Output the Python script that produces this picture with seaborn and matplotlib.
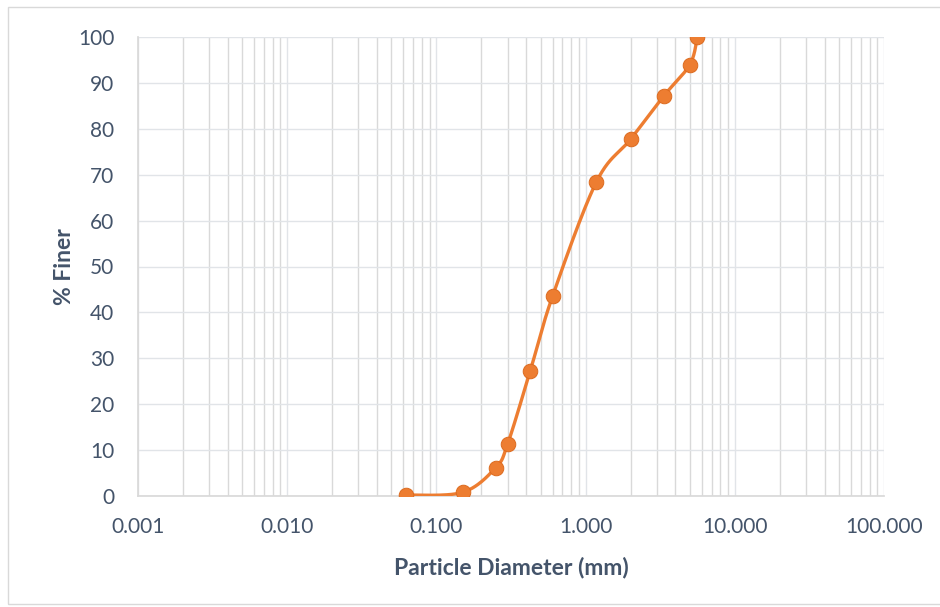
import numpy as np
import pandas as pd
import matplotlib
matplotlib.use("Agg")
import matplotlib.pyplot as plt
import seaborn as sns
from matplotlib.ticker import FixedLocator, LogLocator, NullFormatter

diameter_mm = [0.063, 0.15, 0.25, 0.3, 0.425, 0.6, 1.18, 2.0, 3.35, 5.0, 5.6]
percent_finer = [0.2, 0.8, 6.2, 11.3, 27.2, 43.5, 68.4, 77.7, 87.2, 94.0, 100.0]
x_tick_values = [0.001, 0.01, 0.1, 1, 10, 100]
x_tick_labels = ["0.001", "0.010", "0.100", "1.000", "10.000", "100.000"]
y_tick_values = list(range(0, 101, 10))

ORANGE = "#ED7D31"
TEXT = "#44546A"

sns.set_theme(style="white")
plt.rcParams["font.family"] = ["Lato", "DejaVu Sans"]

df = pd.DataFrame({"d": diameter_mm, "p": percent_finer})

# Excel-like smoothed line (Catmull-Rom Bezier in log-x space)
lx = np.log10(df["d"].values)
py = df["p"].values
n = len(lx)
curve_x, curve_y = [], []
t = np.linspace(0, 1, 40)
for i in range(n - 1):
    p0 = np.array([lx[max(i - 1, 0)], py[max(i - 1, 0)]])
    p1 = np.array([lx[i], py[i]])
    p2 = np.array([lx[i + 1], py[i + 1]])
    p3 = np.array([lx[min(i + 2, n - 1)], py[min(i + 2, n - 1)]])
    c1 = p1 + (p2 - p0) / 6.0
    c2 = p2 - (p3 - p1) / 6.0
    b = ((1 - t) ** 3)[:, None] * p1 + (3 * (1 - t) ** 2 * t)[:, None] * c1 \
        + (3 * (1 - t) * t ** 2)[:, None] * c2 + (t ** 3)[:, None] * p2
    curve_x.extend(10 ** b[:, 0])
    curve_y.extend(b[:, 1])
smooth = pd.DataFrame({"d": curve_x, "p": curve_y})

fig = plt.figure(figsize=(9.4, 6.07), dpi=100)
ax = fig.add_axes([138 / 940, 1 - 496 / 607, (884 - 138) / 940, (496 - 37) / 607])

ax.set_xscale("log")
ax.set_xlim(0.001, 100)
ax.set_ylim(0, 100)

sns.lineplot(data=smooth, x="d", y="p", sort=False, ax=ax, color=ORANGE,
             linewidth=2.4, zorder=3)
sns.scatterplot(data=df, x="d", y="p", ax=ax, color=ORANGE, s=110,
                edgecolor="#DC6A1E", linewidth=0.7, zorder=4)

ax.xaxis.set_major_locator(FixedLocator(x_tick_values))
ax.set_xticklabels(x_tick_labels)
ax.xaxis.set_minor_locator(LogLocator(base=10, subs=np.arange(2, 10)))
ax.xaxis.set_minor_formatter(NullFormatter())
ax.set_yticks(y_tick_values)

ax.grid(True, which="major", axis="both", color="#E1E4E8", linewidth=1.0)
ax.grid(True, which="minor", axis="x", color="#D9D9D9", linewidth=1.0)
ax.set_axisbelow(True)
ax.tick_params(which="both", length=0, labelsize=15, labelcolor=TEXT)
ax.tick_params(axis="x", pad=15)
ax.tick_params(axis="y", pad=17)

for side in ["top", "right"]:
    ax.spines[side].set_visible(False)
ax.spines["left"].set_color("#D9D9D9")
ax.spines["bottom"].set_color("#D9D9D9")

ax.set_xlabel("Particle Diameter (mm)", fontsize=16.5, fontweight="bold", color=TEXT, labelpad=14)
ax.set_ylabel("% Finer", fontsize=16.5, fontweight="bold", color=TEXT, labelpad=2)

# chart area border
fig.patches.append(plt.Rectangle((8 / 940, 3 / 607), 1.2, 1 - 10 / 607, transform=fig.transFigure,
                                 fill=False, edgecolor="#D9D9D9", linewidth=1.0))

fig.savefig("out.png", dpi=100)
